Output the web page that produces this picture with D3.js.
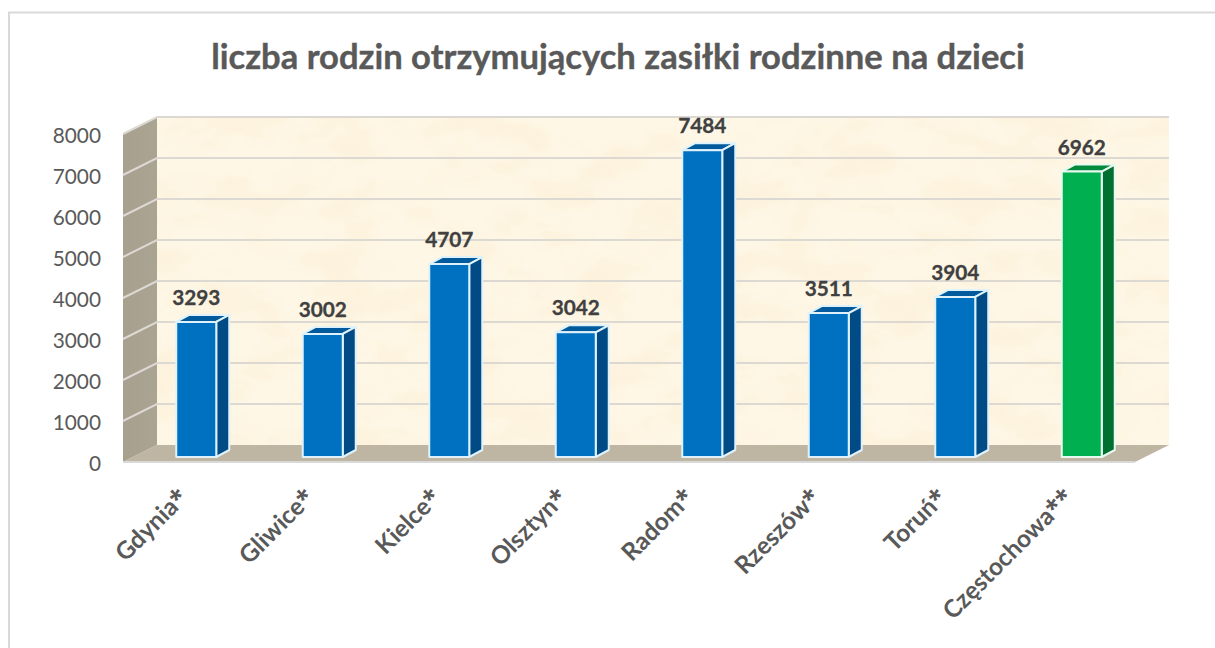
<!DOCTYPE html>
<html>
<head>
<meta charset="utf-8">
<style>
  html, body { margin: 0; padding: 0; background: #fff; }
  svg { display: block; }
  text { font-family: Lato, "Open Sans", sans-serif; }
</style>
<script src="https://cdn.jsdelivr.net/npm/d3@7"></script>
</head>
<body>
<div id="chart"></div>
<script>
var categories = ["Gdynia*", "Gliwice*", "Kielce*", "Olsztyn*", "Radom*", "Rzeszów*", "Toruń*", "Częstochowa**"];
var values = [3293, 3002, 4707, 3042, 7484, 3511, 3904, 6962];
var barKinds = ["blue", "blue", "blue", "blue", "blue", "blue", "blue", "green"];
var yTicks = [0, 1000, 2000, 3000, 4000, 5000, 6000, 7000, 8000];
var title = "liczba rodzin otrzymujących zasiłki rodzinne na dzieci";

var w = 1215, h = 648;
var textColor = "#595959";

var colors = {
  blue: { front: "#0070c0", side: "#004b85", top: "#005a9c", edge: "#dff2fb" },
  green: { front: "#00b050", side: "#007030", top: "#008a3e", edge: "#e9f9ef" }
};

// 3d box: front plane of the axis, wall is pushed back by depth
var depthX = 34, depthY = -17;
var barDepthX = 13, barDepthY = -7;

var x = d3.scaleBand().domain(categories).range([123, 1135]);
var y = d3.scaleLinear().domain([0, 8000]).range([462, 134]);

var svg = d3.select("#chart").append("svg").attr("width", w).attr("height", h);

var defs = svg.append("defs");
var paper = defs.append("filter").attr("id", "paper")
  .attr("x", 0).attr("y", 0).attr("width", 1).attr("height", 1);
paper.append("feTurbulence").attr("type", "fractalNoise")
  .attr("baseFrequency", "0.016 0.028").attr("numOctaves", 4).attr("seed", 7).attr("result", "n");
paper.append("feColorMatrix").attr("in", "n").attr("type", "matrix")
  .attr("values", "0 0 0 0 0.98  0 0 0 0 0.89  0 0 0 0 0.72  3.2 0 0 0 -1.3").attr("result", "m");
paper.append("feMerge").selectAll("feMergeNode").data(["SourceGraphic", "m"]).enter()
  .append("feMergeNode").attr("in", function(d) { return d; });

var sideGrad = defs.append("linearGradient").attr("id", "sideWall");
sideGrad.append("stop").attr("offset", "0%").attr("stop-color", "#a8a08f");
sideGrad.append("stop").attr("offset", "100%").attr("stop-color", "#aaa493");

// chart frame, open on the right and at the bottom
svg.append("path")
  .attr("d", "M9,648V12.5H1215")
  .attr("fill", "none").attr("stroke", "#d9d9d9").attr("stroke-width", 2);

svg.append("text")
  .attr("x", 618).attr("y", 69)
  .attr("text-anchor", "middle")
  .attr("font-size", 34.6).attr("font-weight", 700)
  .attr("fill", textColor)
  .attr("stroke", textColor).attr("stroke-width", 0.4)
  .text(title);

var left = x.range()[0], right = x.range()[1];

// back wall
svg.append("rect")
  .attr("x", left + depthX).attr("y", y(8000) + depthY)
  .attr("width", right - left).attr("height", y(0) - y(8000))
  .attr("fill", "#fef7e6")
  .attr("filter", "url(#paper)");

// side wall
svg.append("path")
  .attr("d", d3.line()([
    [left, y(8000)], [left + depthX, y(8000) + depthY],
    [left + depthX, y(0) + depthY], [left, y(0)]
  ]) + "Z")
  .attr("fill", "url(#sideWall)");

// floor
svg.append("path")
  .attr("d", d3.line()([
    [left, y(0)], [left + depthX, y(0) + depthY],
    [right + depthX, y(0) + depthY], [right, y(0)]
  ]) + "Z")
  .attr("fill", "#bfb5a3");

// gridlines run along the side wall then the back wall
svg.append("g").selectAll("path").data(yTicks.slice(1)).enter().append("path")
  .attr("d", function(d) {
    return d3.line()([[left, y(d)], [left + depthX, y(d) + depthY], [right + depthX, y(d) + depthY]]);
  })
  .attr("fill", "none")
  .attr("stroke", "#dcd8d2")
  .attr("stroke-width", 2);

svg.append("path")
  .attr("d", d3.line()([[left, y(0)], [right, y(0)]]))
  .attr("stroke", "#d9d9d9").attr("stroke-width", 2);

// y axis labels
svg.append("g").selectAll("text").data(yTicks).enter().append("text")
  .attr("x", 101).attr("y", function(d) { return y(d) + 9; })
  .attr("text-anchor", "end")
  .attr("font-size", 20.8)
  .attr("fill", textColor)
  .text(function(d) { return d; });

// bars
var barW = 40;
var rows = categories.map(function(c, i) {
  return { name: c, value: values[i], kind: barKinds[i] };
});

var bars = svg.append("g").selectAll("g").data(rows).enter().append("g")
  .attr("stroke-width", 2)
  .attr("stroke-linejoin", "round")
  .each(function(d) {
    var g = d3.select(this);
    var c = colors[d.kind];
    var x0 = x(d.name) + x.bandwidth() / 2 - barW / 2 + 10;
    var x1 = x0 + barW;
    var yb = y(0) - 5;
    var yt = y(d.value) - 5;

    g.append("path")
      .attr("d", d3.line()([[x0, yt], [x0 + barDepthX, yt + barDepthY], [x1 + barDepthX, yt + barDepthY], [x1, yt]]) + "Z")
      .attr("fill", c.top).attr("stroke", c.edge);
    g.append("path")
      .attr("d", d3.line()([[x1, yt], [x1 + barDepthX, yt + barDepthY], [x1 + barDepthX, yb + barDepthY], [x1, yb]]) + "Z")
      .attr("fill", c.side).attr("stroke", c.edge);
    g.append("rect")
      .attr("x", x0).attr("y", yt)
      .attr("width", barW).attr("height", yb - yt)
      .attr("fill", c.front).attr("stroke", c.edge);

    g.append("text")
      .attr("x", x0 + barW / 2)
      .attr("y", yt - 17)
      .attr("text-anchor", "middle")
      .attr("font-size", 20.8).attr("font-weight", 700)
      .attr("fill", "#404040")
      .attr("stroke", "#404040").attr("stroke-width", 0.3)
      .text(d.value);
  });

// category labels, Lato's asterisk is tiny so it gets a bigger one
var labels = svg.append("g").selectAll("text").data(categories).enter().append("text")
  .attr("transform", function(d) {
    return "translate(" + (x(d) + x.bandwidth() / 2 + 3) + ",499)rotate(-45)";
  })
  .attr("text-anchor", "end")
  .attr("font-size", 24.5).attr("font-weight", 700)
  .attr("fill", textColor);

labels.append("tspan").text(function(d) { return d.replace(/\*+$/, ""); });
labels.append("tspan")
  .style("font-family", "'Open Sans'")
  .text(function(d) { return d.match(/\*+$/)[0]; });
</script>
</body>
</html>
